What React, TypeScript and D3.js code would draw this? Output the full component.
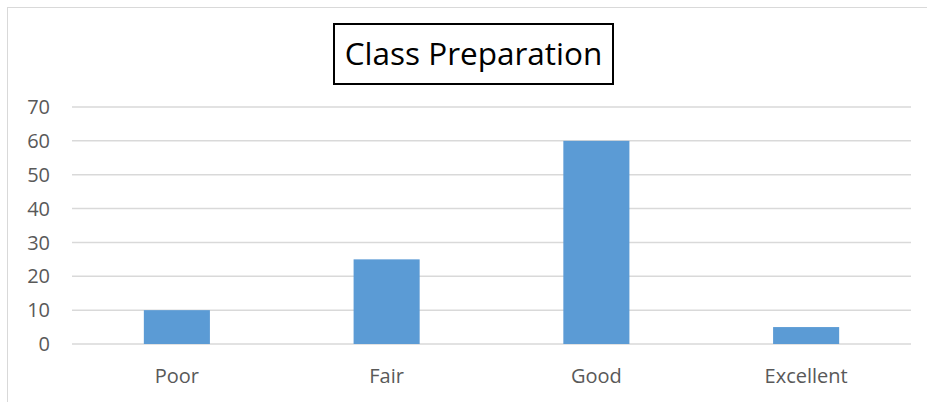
import * as d3 from "d3";

const categories = ["Poor", "Fair", "Good", "Excellent"];
const values = [10, 25, 60, 5];
const yTicks = [0, 10, 20, 30, 40, 50, 60, 70];
const title = "Class Preparation";

const W = 927;
const H = 402;
const margin = { top: 107, bottom: 58, left: 72, right: 16 };

export default function App() {
  const x = d3
    .scaleBand<string>()
    .domain(categories)
    .range([margin.left, W - margin.right])
    .paddingInner(0.685)
    .paddingOuter(0.3425);
  const y = d3
    .scaleLinear()
    .domain([0, 70])
    .range([H - margin.bottom, margin.top]);

  const font = "'Open Sans', 'DejaVu Sans', sans-serif";

  return (
    <svg
      width={W}
      height={H}
      style={{ position: "absolute", left: 0, top: 0, background: "#fff" }}
    >
      <rect x={7.5} y={7.5} width={W + 10} height={H + 10} fill="#fff" stroke="#d9d9d9" />

      {/* title box */}
      <rect x={334} y={24} width={279} height={60} fill="#fff" stroke="#000" strokeWidth={2} />
      <text x={473.5} y={65} textAnchor="middle" fontFamily={font} fontSize={31.5} fill="#000">
        {title}
      </text>

      {yTicks.map((t) => (
        <g key={t}>
          <line
            x1={margin.left}
            x2={W - margin.right}
            y1={y(t)}
            y2={y(t)}
            stroke="#d9d9d9"
            strokeWidth={1.5}
          />
          <text
            x={50}
            y={y(t)}
            dy="0.36em"
            textAnchor="end"
            fontFamily={font}
            fontSize={20}
            fill="#595959"
          >
            {t}
          </text>
        </g>
      ))}

      {categories.map((c, i) => (
        <g key={c}>
          <rect
            x={x(c)}
            y={y(values[i])}
            width={x.bandwidth()}
            height={y(0) - y(values[i])}
            fill="#5b9bd5"
          />
          <text
            x={(x(c) ?? 0) + x.bandwidth() / 2}
            y={383}
            textAnchor="middle"
            fontFamily={font}
            fontSize={20}
            fill="#595959"
          >
            {c}
          </text>
        </g>
      ))}
    </svg>
  );
}
